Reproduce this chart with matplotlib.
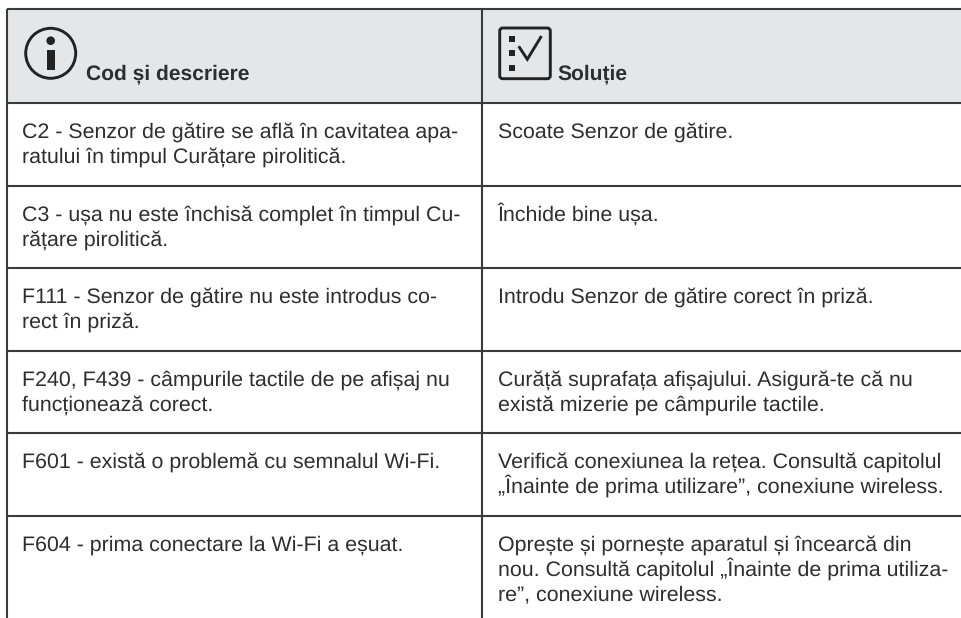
import matplotlib
matplotlib.use("Agg")
import matplotlib.pyplot as plt
from matplotlib.patches import Circle, FancyBboxPatch, Rectangle

# table contents, one entry per row
HEADERS = ["Cod și descriere", "Soluție"]
CODES = [
    "C2 - Senzor de gătire se află în cavitatea apa-\nratului în timpul Curățare pirolitică.",
    "C3 - ușa nu este închisă complet în timpul Cu-\nrățare pirolitică.",
    "F111 - Senzor de gătire nu este introdus co-\nrect în priză.",
    "F240, F439 - câmpurile tactile de pe afișaj nu\nfuncționează corect.",
    "F601 - există o problemă cu semnalul Wi-Fi.",
    "F604 - prima conectare la Wi-Fi a eșuat.",
]
SOLUTIONS = [
    "Scoate Senzor de gătire.",
    "Închide bine ușa.",
    "Introdu Senzor de gătire corect în priză.",
    "Curăță suprafața afișajului. Asigură-te că nu\nexistă mizerie pe câmpurile tactile.",
    "Verifică conexiunea la rețea. Consultă capitolul\n„Înainte de prima utilizare”, conexiune wireless.",
    "Oprește și pornește aparatul și încearcă din\nnou. Consultă capitolul „Înainte de prima utiliza-\nre”, conexiune wireless.",
]

W, H = 962, 618
LEFT = 7.3
MID = 482.3
TOP = 9
HEADER_BOTTOM = 103
ROW_LINES = [185.7, 268, 350.7, 433, 515.5]
INK = "#2e2e2e"
RULE = "#3a3a3a"
ICON = "#222222"
BODY_SIZE = 15.4
LINE_STEP = 25.3

plt.rcParams["font.family"] = ["Liberation Sans", "DejaVu Sans"]
plt.rcParams["text.hinting"] = "no_hinting"

fig = plt.figure(figsize=(W / 100, H / 100), dpi=100)
ax = fig.add_axes([0, 0, 1, 1])
ax.set_xlim(0, W)
ax.set_ylim(H, 0)
ax.axis("off")

ax.add_patch(Rectangle((LEFT, TOP), W - LEFT, HEADER_BOTTOM - TOP, facecolor="#e5e6e8", edgecolor="none"))

# rules
for y in [TOP, HEADER_BOTTOM] + ROW_LINES:
    ax.plot([LEFT, W], [y, y], color=RULE, lw=1.5, solid_capstyle="butt")
for x in [LEFT, MID]:
    ax.plot([x, x], [TOP, H], color=RULE, lw=1.5, solid_capstyle="butt")

# info icon
ax.add_patch(Circle((50.7, 53.3), 25, facecolor="none", edgecolor=ICON, lw=2.1))
ax.add_patch(Circle((50.7, 40.7), 4.3, facecolor=ICON, edgecolor="none"))
ax.add_patch(Rectangle((47.3, 50), 7.7, 20, facecolor=ICON, edgecolor="none"))

# checklist icon
ax.add_patch(FancyBboxPatch((499.7, 28), 50.6, 50.7, boxstyle="round,pad=0,rounding_size=3",
                            facecolor="none", edgecolor=ICON, lw=2.1))
for y in [39.3, 53.3, 67.7]:
    ax.add_patch(Rectangle((508.7, y - 3), 6, 6, facecolor=ICON, edgecolor="none"))
ax.plot([519.5, 527.3, 540.7], [47.5, 59.3, 37.3], color=ICON, lw=2.1, solid_joinstyle="miter")

# header text
ax.text(86, 79, HEADERS[0], fontsize=15.1, fontweight="bold", color=INK, va="baseline")
ax.text(557.7, 79, HEADERS[1], fontsize=15.1, fontweight="bold", color=INK, va="baseline")

# body text, one line at a time so the line pitch stays even
tops = [HEADER_BOTTOM] + ROW_LINES
for top, code, sol in zip(tops, CODES, SOLUTIONS):
    for x, cell in [(22.5, code), (498, sol)]:
        for i, line in enumerate(cell.split("\n")):
            ax.text(x, top + 34.6 + i * LINE_STEP, line, fontsize=BODY_SIZE, color=INK, va="baseline")

fig.savefig("out.png", dpi=100)
